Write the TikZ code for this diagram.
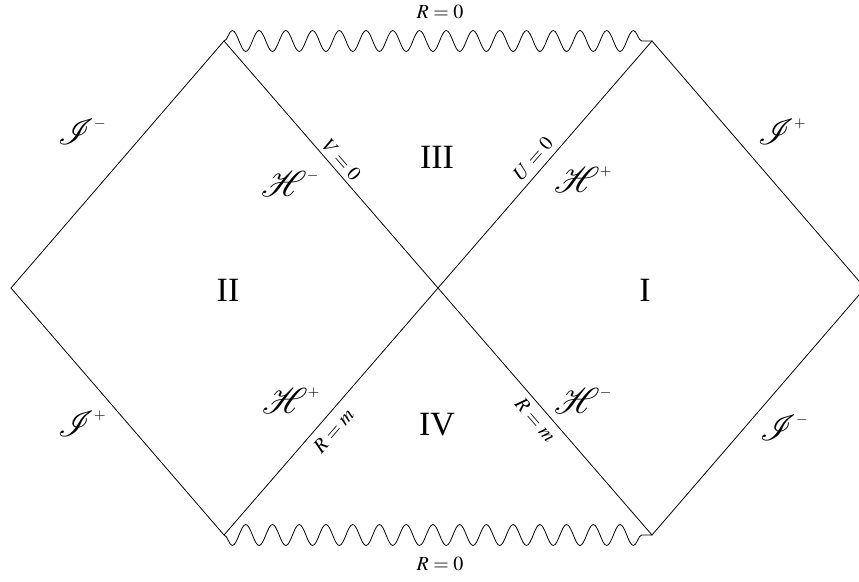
\documentclass[tikz,border=0pt]{standalone}
\usepackage{mathptmx}
\usepackage{mathrsfs}
\usepackage{fontspec}
\setmainfont{Liberation Serif}
\usetikzlibrary{decorations.pathmorphing}
% larger script capitals
\DeclareFontFamily{U}{rsfs}{\skewchar\font127 }
\DeclareFontShape{U}{rsfs}{m}{n}{<-> s*[1.8] rsfs10}{}
\newcommand{\scrlabel}[2]{$\mathscr{#1}^{\raisebox{10pt}{$\scriptstyle#2$}}$}

\begin{document}
\begin{tikzpicture}[x=1pt, y=-1pt,
        edge/.style={line width=0.8pt},
        singular/.style={
            line width=0.8pt, decorate,
            decoration={snake, amplitude=10.5pt, segment length=26.74pt}
        },
        region/.style={font=\fontsize{34}{38}\selectfont},
        infinity/.style={font=\fontsize{20}{24}\selectfont, inner sep=1pt},
        axis label/.style={font=\fontsize{20}{24}\selectfont, inner sep=1pt}
    ]
    \useasboundingbox (0,0) rectangle (859,581);
    % corners of the diagram
    \coordinate (left) at (11,288);
    \coordinate (topl) at (224,41);
    \coordinate (topr) at (652,41);
    \coordinate (right) at (865,288);
    \coordinate (botl) at (224,535);
    \coordinate (botr) at (652,535);
    \coordinate (mid) at (438,288);

    % null boundaries and horizons
    \draw[edge] (botl) -- (left) -- (topl) -- (botr) -- (right) -- (topr) -- (botl);
    % singularities
    \draw[singular] (topl) -- (topr);
    \draw[singular, decoration={mirror}] (botl) -- (botr);

    \node[axis label] (rtop) at (440,12) {$R=0$};
    \node[axis label] (rbot) at (440,564) {$R=0$};

    % regions
    \node[region] (regI) at (645,290) {I};
    \node[region] (regII) at (228,290) {II};
    \node[region] (regIII) at (437,157) {III};
    \node[region] (regIV) at (437,425) {IV};

    % null infinity
    \node[infinity] (scrimL) at (82,132) {\scrlabel{I}{-}};
    \node[infinity] (scripL) at (82,424) {\scrlabel{I}{+}};
    \node[infinity] (scripR) at (782,132) {\scrlabel{I}{+}};
    \node[infinity] (scrimR) at (784,428) {\scrlabel{I}{-}};

    % horizons
    \node[infinity] (horimL) at (290,184) {\scrlabel{H}{-}};
    \node[infinity] (horipR) at (583,180) {\scrlabel{H}{+}};
    \node[infinity] (horipL) at (291,401) {\scrlabel{H}{+}};
    \node[infinity] (horimR) at (583,401) {\scrlabel{H}{-}};

    % labels along the horizons
    \path (topl) -- (mid) node[axis label, sloped, pos=0.51, above=3pt] (vzero) {$V=0$};
    \path (mid) -- (topr) node[axis label, sloped, pos=0.49, above=5pt] (uzero) {$U=0$};
    \path (botl) -- (mid) node[axis label, sloped, pos=0.46, below=7pt] (rmL) {$R=m$};
    \path (mid) -- (botr) node[axis label, sloped, pos=0.50, below=5pt] (rmR) {$R=m$};
\end{tikzpicture}
\end{document}
